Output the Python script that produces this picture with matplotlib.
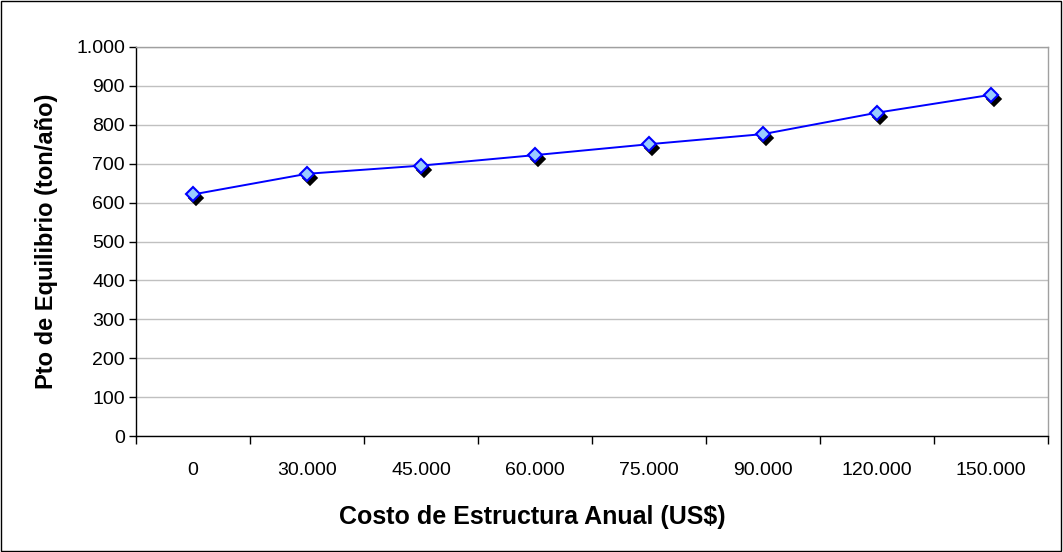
import matplotlib
matplotlib.use("Agg")
import matplotlib.pyplot as plt
import matplotlib.transforms as mtransforms
from matplotlib.patches import Rectangle
from matplotlib.ticker import FuncFormatter, FixedLocator

plt.rcParams['font.family'] = ['Liberation Sans', 'DejaVu Sans']

# Annual structure cost (US$) categories and break-even point (ton/year)
categories = ["0", "30.000", "45.000", "60.000", "75.000", "90.000", "120.000", "150.000"]
break_even = [621, 674, 695, 722, 750, 776, 831, 877]
y_ticks = [0, 100, 200, 300, 400, 500, 600, 700, 800, 900, 1000]

fig = plt.figure(figsize=(10.63, 5.52), dpi=100)
ax = fig.add_axes([0.128, 0.210, 0.858, 0.705])

x = list(range(len(categories)))

# Drop shadow of the markers
shadow = mtransforms.offset_copy(ax.transData, fig=fig, x=3, y=-4, units='dots')
ax.plot(x, break_even, linestyle='none', marker='D', markersize=7.4,
        markerfacecolor='black', markeredgecolor='black', markeredgewidth=1.2,
        transform=shadow, zorder=3)
# Main series
ax.plot(x, break_even, color='#0000FF', linewidth=1.4, marker='D', markersize=7.4,
        markerfacecolor='#99CCFF', markeredgecolor='#0000FF', markeredgewidth=1.5,
        zorder=4)

ax.set_xlim(-0.5, len(categories) - 0.5)
ax.set_ylim(0, 1000)

# Y axis
ax.yaxis.set_major_locator(FixedLocator(y_ticks))
ax.yaxis.set_major_formatter(FuncFormatter(lambda v, p: f"{int(v):,}".replace(",", ".")))
ax.tick_params(axis='y', direction='out', length=5, width=1, color='black',
               labelsize=14, pad=3)
ax.grid(axis='y', color='#C0C0C0', linewidth=1)
ax.set_axisbelow(True)

# X axis: tick marks on category boundaries, labels at centres
ax.xaxis.set_major_locator(FixedLocator([i - 0.5 for i in range(len(categories) + 1)]))
ax.xaxis.set_major_formatter(FuncFormatter(lambda v, p: ""))
ax.xaxis.set_minor_locator(FixedLocator(x))
ax.set_xticks(x, minor=True)
ax.set_xticklabels(categories, minor=True)
ax.tick_params(axis='x', which='major', direction='out', length=6, width=1, color='black')
ax.tick_params(axis='x', which='minor', length=0, labelsize=14, pad=19)

for side in ('left', 'bottom'):
    ax.spines[side].set_color('black')
    ax.spines[side].set_linewidth(1)
for side in ('top', 'right'):
    ax.spines[side].set_color('#A0A0A0')
    ax.spines[side].set_linewidth(1)

ax.set_xlabel("Costo de Estructura Anual (US$)", fontsize=18, fontweight='bold')
ax.set_ylabel("Pto de Equilibrio (ton/año)", fontsize=17, fontweight='bold')
ax.xaxis.set_label_coords(0.434, -0.176)
ax.yaxis.set_label_coords(-0.0855, 0.5)

# Outer chart border
fig.patches.append(Rectangle((0.0005, 0.001), 0.998, 0.997, transform=fig.transFigure,
                             fill=False, edgecolor='black', linewidth=1))

fig.savefig("out.png", dpi=100)
